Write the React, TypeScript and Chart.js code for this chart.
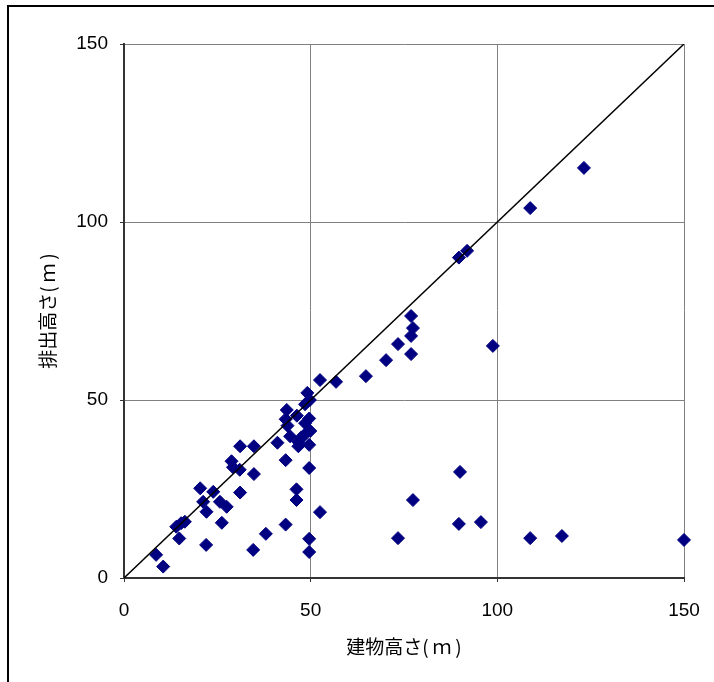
import React, { useEffect, useRef } from "react";
import { Chart, registerables } from "chart.js";

Chart.register(...registerables);

// 建物高さ (m)
const buildingHeights = [
  8.6, 10.5, 14.0, 15.3, 16.3, 14.8, 20.4, 21.2, 22.1, 22.0,
  23.9, 25.7, 26.2, 27.5, 28.8, 29.2, 31.0, 31.1, 31.1, 34.8,
  34.8, 34.6, 38.0, 41.1, 43.6, 43.3, 43.3, 43.3, 44.5, 46.3,
  46.7, 46.2, 46.2, 48.5, 48.5, 49.1, 49.6, 49.9, 49.6, 49.6,
  49.6, 49.6, 49.8, 52.5, 52.5, 56.8, 64.8, 70.2, 73.4, 73.4,
  76.9, 77.4, 76.9, 76.9, 77.4, 90.0, 89.7, 89.7, 91.9, 95.6,
  98.8, 108.8, 108.8, 117.3, 123.2, 150.0, 46.7, 48.5, 47.5, 43.8,
];
// 排出高さ (m)
const emissionHeights = [
  6.5, 3.2, 14.4, 15.4, 15.8, 11.1, 25.2, 21.4, 18.6, 9.3,
  24.2, 21.4, 15.5, 20.0, 32.8, 31.1, 30.4, 24.0, 37.0, 37.0,
  29.2, 7.9, 12.4, 38.0, 47.2, 44.6, 33.1, 15.0, 39.8, 45.6,
  38.2, 21.9, 24.9, 40.4, 48.8, 52.0, 44.8, 41.3, 37.4, 30.9,
  11.0, 7.3, 50.0, 18.5, 55.6, 55.1, 56.7, 61.2, 65.7, 11.2,
  73.6, 70.2, 68.0, 62.9, 21.9, 29.8, 15.2, 90.0, 91.9, 15.7,
  65.2, 103.9, 11.2, 11.8, 115.2, 10.7, 37.0, 43.5, 39.5, 42.8,
];
const referenceLineX = [0, 150];
const referenceLineY = [0, 150];
const tickValues = [0, 50, 100, 150];
const xTitle = "建物高さ(\u2009ｍ\u2009)";
const yTitle = "排出高さ(\u2009ｍ\u2009)";

const framePlugin = {
  id: "frame",
  afterDraw(chart: any) {
    const ctx = chart.ctx;
    ctx.save();
    ctx.strokeStyle = "#000";
    ctx.lineWidth = 2;
    ctx.strokeRect(8, 6, 760, 760);
    ctx.restore();
  },
};

export default function App() {
  const ref = useRef<HTMLCanvasElement | null>(null);
  useEffect(() => {
    if (!ref.current) return;
    const tickFont = { family: "'Liberation Sans', Arial, sans-serif", size: 19 };
    const titleFont = { family: "'Noto Sans CJK JP', sans-serif", size: 19 };
    const chart = new Chart(ref.current, {
      type: "scatter",
      data: {
        datasets: [
          {
            data: referenceLineX.map((x, i) => ({ x, y: referenceLineY[i] })),
            showLine: true,
            borderColor: "#000",
            borderWidth: 1.5,
            pointRadius: 0,
            order: 0,
          },
          {
            data: buildingHeights.map((x, i) => ({ x, y: emissionHeights[i] })),
            pointStyle: "rectRot",
            pointRadius: 6.5,
            backgroundColor: "#000080",
            borderColor: "#000080",
            borderWidth: 1,
            clip: false as any,
            order: 1,
          },
        ],
      },
      options: {
        animation: false,
        responsive: false,
        events: [],
        layout: { padding: { top: 44, right: 30, left: 0, bottom: 0 } },
        plugins: { legend: { display: false }, tooltip: { enabled: false } },
        scales: {
          x: {
            type: "linear",
            min: 0,
            max: 150,
            afterBuildTicks: (s: any) => {
              s.ticks = tickValues.map((v) => ({ value: v }));
            },
            afterFit: (s: any) => {
              s.height = 104;
              s.paddingLeft = 0;
              s.paddingRight = 0;
            },
            ticks: { font: tickFont, color: "#000", padding: 17, maxRotation: 0 },
            grid: { color: "#808080", lineWidth: 1, tickLength: 4, tickColor: "#333" },
            border: { color: "#333", width: 2 },
            title: {
              display: true,
              text: xTitle,
              font: titleFont,
              color: "#000",
              padding: { top: 0, bottom: 24 },
            },
          },
          y: {
            type: "linear",
            min: 0,
            max: 150,
            afterBuildTicks: (s: any) => {
              s.ticks = tickValues.map((v) => ({ value: v }));
            },
            afterFit: (s: any) => {
              s.width = 124;
              s.paddingTop = 0;
              s.paddingBottom = 0;
            },
            ticks: { font: tickFont, color: "#000", padding: 12 },
            grid: { color: "#808080", lineWidth: 1, tickLength: 4, tickColor: "#333" },
            border: { color: "#333", width: 2 },
            title: {
              display: true,
              text: yTitle,
              font: titleFont,
              color: "#000",
              padding: { top: 36, bottom: 0 },
            },
          },
        },
      },
      plugins: [framePlugin],
    });
    return () => chart.destroy();
  }, []);
  return (
    <div style={{ position: "absolute", left: 0, top: 0, width: 714, height: 682, background: "#fff", overflow: "hidden" }}>
      <canvas ref={ref} width={714} height={682} style={{ display: "block" }} />
    </div>
  );
}
